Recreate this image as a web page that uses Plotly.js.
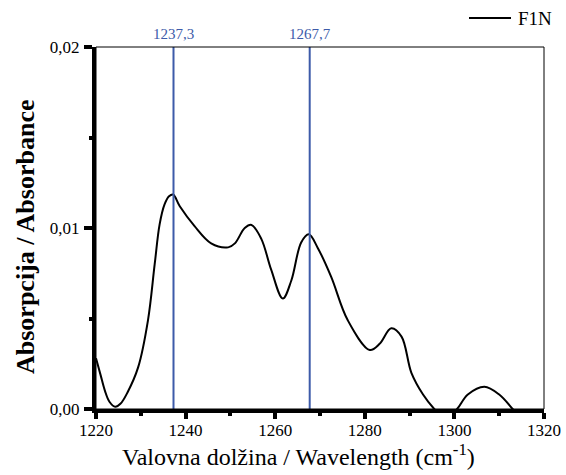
<!DOCTYPE html>
<html><head><meta charset="utf-8">
<script src="https://cdn.plot.ly/plotly-3.0.1.min.js"></script>
<style>body{margin:0;background:#fff}#c{width:566px;height:475px}</style>
</head><body><div id="c"></div>
<script>
const wavenumber = [1220,1221,1222,1223,1224.3,1225.5,1227,1229.4,1231.6,1233.1,1234.2,1235.3,1236.3,1237.2,1238.7,1242,1245.7,1249.5,1251,1253.2,1254.7,1256.9,1259.1,1261.7,1263.6,1265.8,1267.5,1269.5,1272.5,1276.2,1281.1,1283.3,1285.9,1288.2,1290.4,1293,1295.5,1298,1300.6,1303,1306.7,1310,1313,1315];
const absorbance = [0.0028,0.0019,0.0010,0.0004,0.00012,0.0003,0.0009,0.0023,0.0049,0.0080,0.0102,0.0113,0.01175,0.01185,0.0112,0.0101,0.00915,0.00893,0.00915,0.0100,0.01017,0.0094,0.0077,0.0061,0.0071,0.0092,0.00965,0.0089,0.0073,0.0049,0.00326,0.0036,0.00446,0.0040,0.0020,0.0008,0.0000,-0.0006,0.0000,0.0008,0.00123,0.0008,0.0000,-0.0006];
const peakPositions = [1237.3, 1267.7];
const peakLabels = ['1237,3', '1267,7'];
const seriesName = 'F1N';
const xTitle = 'Valovna dolžina / Wavelength (cm<sup>-1</sup>)';
const yTitle = '<b>Absorpcija / Absorbance</b>';

const blue = '#3d5ba9';
const serif = "Liberation Serif";
const L = 96, T = 47, W = 448, H = 362;
const px = x => (x - L) / W;
const py = y => (T + H - y) / H;

const shapes = peakPositions.map(p => ({type:'line', xref:'x', yref:'y', x0:p, x1:p, y0:0, y1:0.02, line:{color:blue, width:2}}));
shapes.push({type:'rect', xref:'paper', yref:'paper', x0:0, x1:1, y0:0, y1:1, line:{color:'#000', width:1}});
shapes.push({type:'line', xref:'paper', yref:'paper', x0:px(469), x1:px(511), y0:py(18), y1:py(18), line:{color:'#000', width:2}});
const annotations = peakPositions.map((p,i) => ({x:p, y:1, xref:'x', yref:'paper', yanchor:'bottom', yshift:3, text:peakLabels[i], showarrow:false, font:{family:serif, size:15, color:blue}}));
annotations.push({x:px(516), y:py(18), xref:'paper', yref:'paper', xanchor:'left', yanchor:'middle', text:seriesName, showarrow:false, font:{family:serif, size:19, color:'#000'}});
annotations.push({x:px(298.5), y:py(455), xref:'paper', yref:'paper', xanchor:'center', yanchor:'middle', text:xTitle, showarrow:false, font:{family:serif, size:24, color:'#000'}});
annotations.push({x:px(25), y:py(237), xref:'paper', yref:'paper', xanchor:'center', yanchor:'middle', textangle:-90, text:yTitle, showarrow:false, font:{family:serif, size:26, color:'#000'}});

Plotly.newPlot('c', [{
  x: wavenumber, y: absorbance, name: seriesName, type:'scatter', mode:'lines',
  line:{color:'#000', width:2, shape:'spline', smoothing:1}
}], {
  width:566, height:475,
  margin:{l:L, r:566-L-W, t:T, b:475-T-H},
  separators: ', ',
  paper_bgcolor:'#fff', plot_bgcolor:'#fff',
  font:{family:serif, color:'#000', size:16},
  showlegend:false,
  xaxis:{range:[1220,1320], dtick:20, tick0:1220, showgrid:false, zeroline:false, showline:true, linewidth:4, linecolor:'#000',
    ticks:'outside', ticklen:6, tickwidth:4, tickcolor:'#000', ticklabelstandoff:-3,
    minor:{dtick:10, ticks:'outside', ticklen:3, tickwidth:4, tickcolor:'#000', showgrid:false},
    tickfont:{family:serif, size:17, color:'#000'}},
  yaxis:{range:[0,0.02], dtick:0.01, tickformat:'.2f', showgrid:false, zeroline:false, showline:true, linewidth:4, linecolor:'#000',
    ticks:'outside', ticklen:8, tickwidth:4, tickcolor:'#000', ticklabelstandoff:1,
    minor:{dtick:0.005, ticks:'outside', ticklen:3, tickwidth:4, tickcolor:'#000', showgrid:false},
    tickfont:{family:serif, size:17, color:'#000'}},
  shapes: shapes,
  annotations: annotations
}, {displayModeBar:false});
</script></body></html>
